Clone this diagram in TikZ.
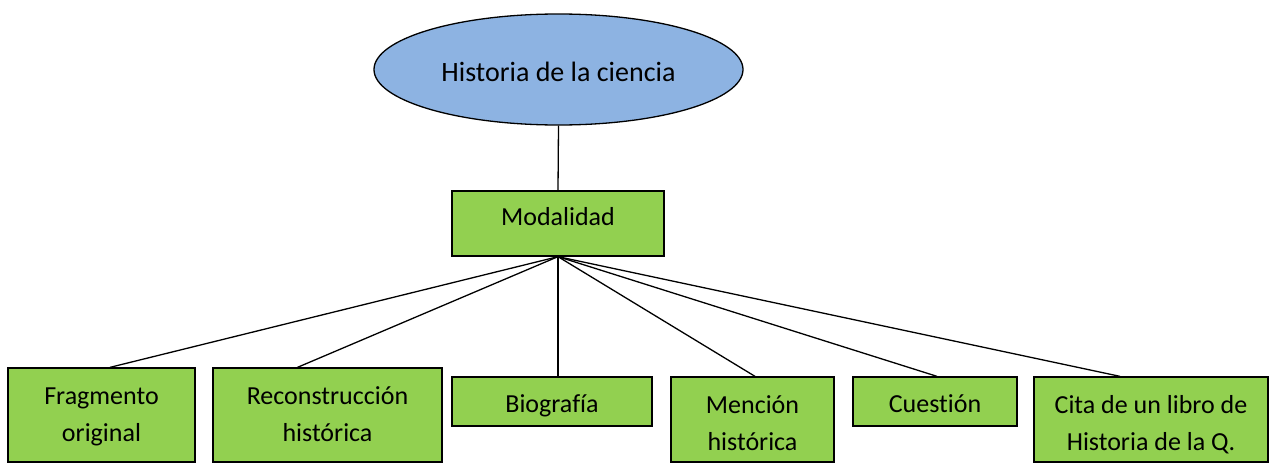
\documentclass[tikz,border=0pt]{standalone}
\usepackage{fontspec}
\setmainfont[Ligatures=NoCommon]{Carlito}
\usetikzlibrary{shapes.geometric}
\definecolor{ellblue}{HTML}{8DB3E2}
\definecolor{boxgreen}{HTML}{92D050}
\begin{document}
\begin{tikzpicture}[x=1pt,y=-1pt,
  box/.style={draw=black, line width=1.3pt, fill=boxgreen, rectangle, inner sep=0pt, align=center,
    font=\fontsize{26}{37}\selectfont},
  oval/.style={draw=black, line width=1.3pt, fill=ellblue, ellipse, inner sep=0pt,
    font=\fontsize{28}{34}\selectfont},
  link/.style={draw=black, line width=1.3pt}]
\useasboundingbox (0,0) rectangle (1272,463);
\node[oval, minimum width=369pt, minimum height=111pt, text height=23pt, text depth=0pt] (hist) at (558.5,69.5) {Historia de la ciencia};
\node[box, minimum width=212pt, minimum height=65pt, text height=18pt, text depth=15pt] (mod) at (558,223.5) {Modalidad};
\node[box, minimum width=187pt, minimum height=94pt, text height=56pt, text depth=4pt] (frag) at (101.5,415) {Fragmento\\original};
\node[box, minimum width=229pt, minimum height=94pt, text height=56pt, text depth=4pt] (rec) at (327.5,415) {Reconstrucción\\histórica};
\node[box, minimum width=200pt, minimum height=49pt, text height=28pt, text depth=6pt] (bio) at (552,401.5) {Biografía};
\node[box, minimum width=163pt, minimum height=85pt, text height=62pt, text depth=0pt] (men) at (752.5,419.5) {Mención\\histórica};
\node[box, minimum width=164pt, minimum height=49pt, text height=27pt, text depth=5pt] (cue) at (935,401.5) {Cuestión};
\node[box, minimum width=234pt, minimum height=85pt, text height=62pt, text depth=0pt] (cita) at (1151,419.5) {Cita de un libro de\\Historia de la Q.};
\draw[link] (hist.south) -- (mod.north);
\draw[link] (mod.south) -- ([xshift=8.5pt]frag.north);
\draw[link] (mod.south) -- ([xshift=-30pt]rec.north);
\draw[link] (mod.south) -- ([xshift=6pt]bio.north);
\draw[link] (mod.south) -- ([xshift=2.5pt]men.north);
\draw[link] (mod.south) -- ([xshift=2pt]cue.north);
\draw[link] (mod.south) -- ([xshift=-31pt]cita.north);
\end{tikzpicture}
\end{document}
